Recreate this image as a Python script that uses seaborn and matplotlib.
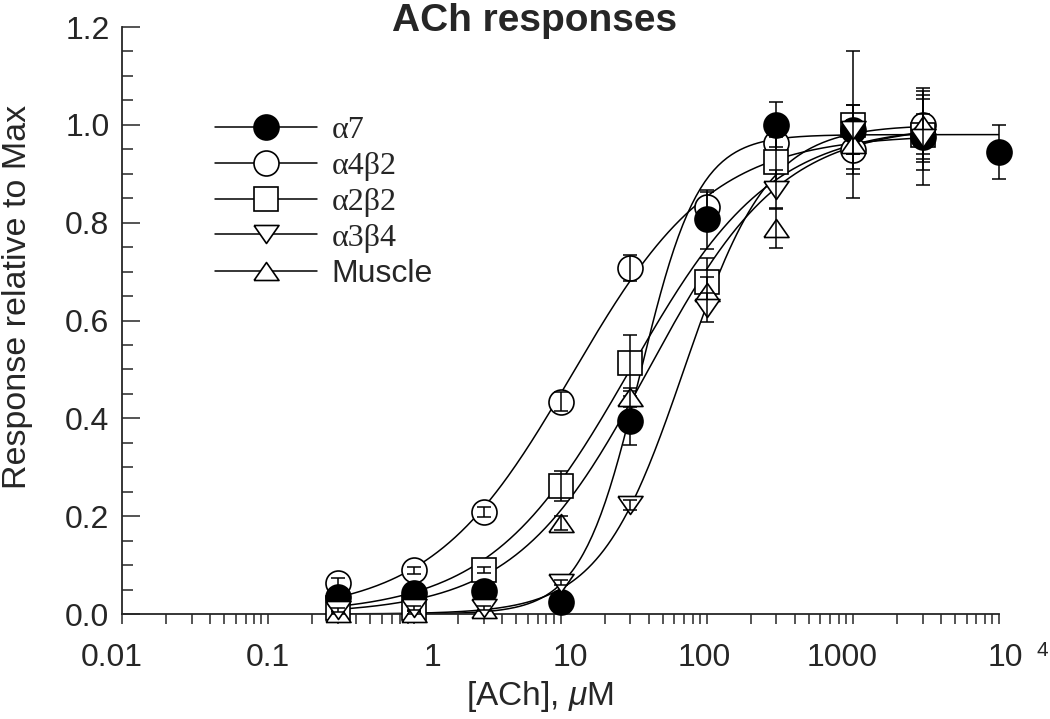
import numpy as np
import pandas as pd
import matplotlib
matplotlib.use("Agg")
import matplotlib.pyplot as plt
import seaborn as sns
from matplotlib.lines import Line2D
from matplotlib.ticker import FixedLocator, NullFormatter, MultipleLocator

# ACh concentrations (uM)
conc = [0.3, 1, 3, 10, 30, 100, 300, 1000, 3000]
conc_a7 = [0.3, 1, 3, 10, 30, 100, 300, 1000, 3000, 10000]

# mean responses (relative to max)
a7_resp = [0.035, 0.042, 0.046, 0.025, 0.395, 0.807, 1.0, 0.99, 0.976, 0.945]
a4b2_resp = [0.063, 0.089, 0.209, 0.434, 0.707, 0.833, 0.963, 0.949, 1.0]
a2b2_resp = [0.012, 0.012, 0.09, 0.262, 0.513, 0.678, 0.925, 1.0, 0.98]
a3b4_resp = [0.008, 0.012, 0.012, 0.064, 0.223, 0.626, 0.867, 0.99, 0.973]
muscle_resp = [0.003, 0.003, 0.01, 0.186, 0.443, 0.659, 0.789, 0.96, 1.0]

# error bars (SEM)
a7_err = [0.01, 0.01, 0.01, 0.005, 0.05, 0.06, 0.046, 0.05, 0.1, 0.055]
a4b2_err = [0.01, 0.008, 0.01, 0.02, 0.027, 0.03, 0.03, 0.05, 0.07]
a2b2_err = [0.005, 0.005, 0.006, 0.03, 0.058, 0.05, 0.05, 0.15, 0.073]
a3b4_err = [0.004, 0.004, 0.004, 0.005, 0.01, 0.03, 0.04, 0.05, 0.05]
muscle_err = [0.004, 0.004, 0.004, 0.015, 0.02, 0.03, 0.04, 0.05, 0.06]

labels = ["\u03b17", "\u03b14\u03b22", "\u03b12\u03b22", "\u03b13\u03b24", "Muscle"]

# Hill fit parameters (EC50 uM, Hill slope, max)
hill_ec50 = [35, 12, 30, 70, 40]
hill_n = [2.17, 0.9, 0.9, 1.5, 0.95]
hill_top = [0.98, 0.98, 1.0, 1.0, 1.0]

sns.set_style("ticks")
plt.rcParams["font.family"] = ["Liberation Sans", "DejaVu Sans"]
plt.rcParams["mathtext.fontset"] = "custom"
plt.rcParams["mathtext.rm"] = "Liberation Sans"
plt.rcParams["mathtext.it"] = "Liberation Sans:italic"

xs_list = [conc_a7, conc, conc, conc, conc]
ys_list = [a7_resp, a4b2_resp, a2b2_resp, a3b4_resp, muscle_resp]
es_list = [a7_err, a4b2_err, a2b2_err, a3b4_err, muscle_err]

# fitted curves
rows = []
for lab, xs, ec, nh, top in zip(labels, xs_list, hill_ec50, hill_n, hill_top):
    xc = np.logspace(np.log10(xs[0]), np.log10(xs[-1]), 300)
    yc = top / (1 + (ec / xc) ** nh)
    rows.append(pd.DataFrame({"conc": xc, "resp": yc, "receptor": lab}))
curves = pd.concat(rows, ignore_index=True)

fig = plt.figure(figsize=(10.5, 7.19), dpi=100)
ax = fig.add_axes([122 / 1050, 1 - 614 / 719, 877 / 1050, 587 / 719])

sns.lineplot(data=curves, x="conc", y="resp", units="receptor", estimator=None,
             color="black", lw=1.1, legend=False, ax=ax, zorder=2)

tri_down = [(-1, 0.72), (1, 0.72), (0, -0.72), (-1, 0.72)]
tri_up = [(-1, -0.72), (1, -0.72), (0, 0.72), (-1, -0.72)]
MS = 18
styles = {
    "\u03b14\u03b22": dict(marker="o", mfc="white", ms=MS),
    "\u03b12\u03b22": dict(marker="s", mfc="white", ms=MS - 0.5),
    "\u03b17": dict(marker="o", mfc="black", ms=MS),
    "Muscle": dict(marker=tri_up, mfc="white", ms=MS),
    "\u03b13\u03b24": dict(marker=tri_down, mfc="white", ms=MS),
}
draw_order = ["\u03b14\u03b22", "\u03b12\u03b22", "\u03b17", "Muscle", "\u03b13\u03b24"]

for k, lab in enumerate(draw_order):
    i = labels.index(lab)
    st = styles[lab]
    ax.plot(xs_list[i], ys_list[i], ls="none", marker=st["marker"], ms=st["ms"],
            mfc=st["mfc"], mec="black", mew=1.2, zorder=3 + 2 * k, clip_on=False)
    ax.errorbar(xs_list[i], ys_list[i], yerr=es_list[i], fmt="none", ecolor="black",
                elinewidth=1.1, capsize=5, capthick=1.1, zorder=4 + 2 * k, clip_on=False)

ax.set_xscale("log")
ax.set_xlim(0.01, 10000)
ax.set_ylim(0, 1.2)
sns.despine(ax=ax)
for sp in ax.spines.values():
    sp.set_linewidth(1.3)

# y axis: inward ticks
ax.yaxis.set_minor_locator(MultipleLocator(0.05))
ax.set_yticks(np.arange(0, 1.21, 0.2))
ax.set_yticklabels([f"{v:.1f}" for v in np.arange(0, 1.21, 0.2)])
ax.tick_params(axis="y", which="major", direction="in", length=13, width=1.1,
               labelsize=23, pad=9)
ax.tick_params(axis="y", which="minor", direction="in", length=8, width=1.1)

# x axis: outward ticks, hand placed labels
dec = [0.01, 0.1, 1, 10, 100, 1000, 10000]
minors = [m * d for d in dec[:-1] for m in range(2, 10)]
ax.xaxis.set_major_locator(FixedLocator(dec))
ax.xaxis.set_minor_locator(FixedLocator(minors))
ax.xaxis.set_major_formatter(NullFormatter())
ax.xaxis.set_minor_formatter(NullFormatter())
ax.tick_params(axis="x", which="both", direction="out", length=7, width=1.1)

xt_text = ["0.01", "0.1", "1", "10", "100", "1000", "10"]
xt_dx = [-10, 0, 18, 10, -2, -11, 6]
for v, t, dx in zip(dec, xt_text, xt_dx):
    ax.annotate(t, xy=(v, 0), xycoords=("data", "axes fraction"), xytext=(dx, -44),
                textcoords="offset pixels", ha="center", va="center", fontsize=23,
                annotation_clip=False)
ax.annotate("4", xy=(10000, 0), xycoords=("data", "axes fraction"), xytext=(43, -36),
            textcoords="offset pixels", ha="center", va="center", fontsize=15,
            annotation_clip=False)

ax.set_xlabel("")
ax.set_ylabel("")
fig.text(540 / 1050, 1 - 697 / 719, "[ACh], $\\mu$M", ha="center", va="center", fontsize=24)
fig.text(18 / 1050, 1 - 297 / 719, "Response relative to Max", rotation=90,
         ha="center", va="center", fontsize=24.5)
fig.text(535 / 1050, 1 - 21 / 719, "ACh responses", ha="center", va="center",
         fontsize=28, fontweight="bold")

# legend
handles = []
for lab in labels:
    st = styles[lab]
    handles.append(Line2D([0], [0], color="black", lw=1.1, marker=st["marker"],
                          ms=st["ms"], mfc=st["mfc"], mec="black", mew=1.2))
leg = ax.legend(handles, labels, loc="upper left",
                bbox_to_anchor=(215 / 1050, 1 - 116 / 719),
                bbox_transform=fig.transFigure, frameon=False, fontsize=23,
                handlelength=3.2, handletextpad=0.45, labelspacing=0.2,
                borderpad=0, borderaxespad=0)
for t in leg.get_texts()[:4]:
    t.set_fontfamily(["Liberation Serif", "DejaVu Serif"])

fig.savefig("out.png", dpi=100)
